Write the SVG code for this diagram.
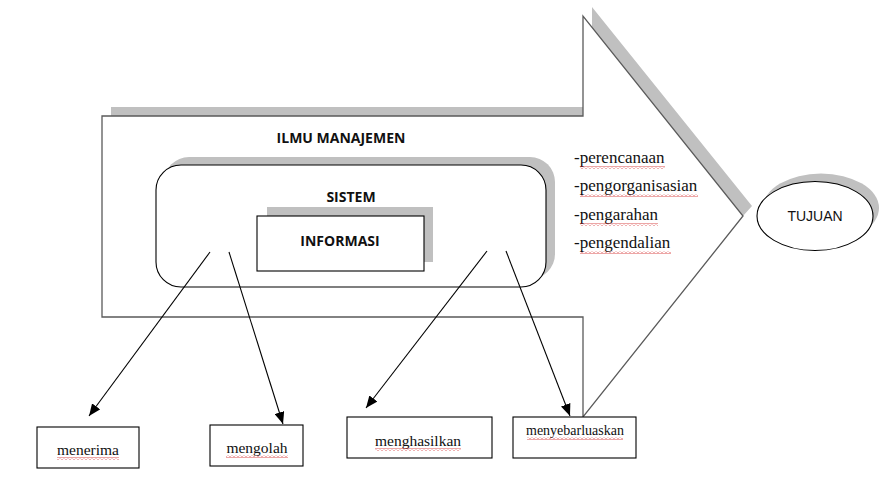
<svg xmlns="http://www.w3.org/2000/svg" width="884" height="498" viewBox="0 0 884 498">
<style>
.shadow{fill:#c0c0c0;stroke:none}
.shape{fill:#fff;stroke:#000;stroke-width:1.1}
.arrowshape{fill:#fff;stroke:#5a5a5a;stroke-width:1.3}
.bold{font-family:"Open Sans","Liberation Sans",sans-serif;font-weight:bold;font-size:14px;fill:#111;text-anchor:middle}
.serif{font-family:"Liberation Serif","Times New Roman",serif;fill:#111}
.sans{font-family:"Liberation Sans",Arial,sans-serif;font-size:14px;fill:#111;text-anchor:middle}
.conn{stroke:#000;stroke-width:1.1;fill:none;marker-end:url(#ah)}
.wavy{fill:url(#zig)}
</style>
<defs>
<marker id="ah" viewBox="0 0 12 10" refX="12" refY="5" markerWidth="12" markerHeight="10" markerUnits="userSpaceOnUse" orient="auto">
<path d="M0,0 L12,5 L0,10 z" fill="#000"/>
</marker>
<pattern id="zig" width="4" height="3" patternUnits="userSpaceOnUse">
<path d="M0,2.5 L2,0.5 L4,2.5" fill="none" stroke="#d02020" stroke-width="0.8"/>
</pattern>
</defs>
<rect width="884" height="498" fill="#fff"/>

<g id="ilmu-manajemen">
<polygon class="shadow" points="111,107 592,107 592,7 752,206 743,216 583,316 111,316"/>
<polygon class="arrowshape" points="102,116 583,116 583,16 743,216 583,417 583,317 102,317"/>
<text class="bold" x="341" y="143">ILMU MANAJEMEN</text>
</g>

<g id="sistem">
<rect class="shadow" x="164" y="157" width="391" height="122" rx="25"/>
<rect class="shape" x="156" y="165" width="390" height="122" rx="25"/>
<text class="bold" x="351" y="202">SISTEM</text>
</g>

<g id="informasi">
<rect class="shadow" x="267" y="207" width="166" height="55"/>
<rect class="shape" x="257" y="216" width="167" height="55"/>
<text class="bold" x="340" y="246">INFORMASI</text>
</g>

<g id="fungsi">
<text class="serif" font-size="17" x="574" y="163">-perencanaan</text>
<text class="serif" font-size="17" x="574" y="191">-pengorganisasian</text>
<text class="serif" font-size="17" x="574" y="220">-pengarahan</text>
<text class="serif" font-size="17" x="574" y="248">-pengendalian</text>
<rect class="wavy" x="580" y="166" width="85" height="3"/>
<rect class="wavy" x="580" y="194" width="118" height="3"/>
<rect class="wavy" x="580" y="223" width="78" height="3"/>
<rect class="wavy" x="580" y="251" width="91" height="3"/>
</g>

<g id="tujuan">
<ellipse class="shadow" cx="821" cy="208" rx="58" ry="34.5"/>
<ellipse class="shape" cx="815" cy="216" rx="58" ry="34.5"/>
<text class="sans" x="815" y="221">TUJUAN</text>
</g>

<g id="menerima">
<rect class="shape" x="37" y="427" width="102" height="41"/>
<text class="serif" font-size="15.5" text-anchor="middle" x="88" y="455">menerima</text>
<rect class="wavy" x="57" y="457" width="62" height="3"/>
</g>

<g id="mengolah">
<rect class="shape" x="210" y="425" width="93" height="41"/>
<text class="serif" font-size="15.5" text-anchor="middle" x="257" y="453">mengolah</text>
<rect class="wavy" x="226" y="455" width="62" height="3"/>
</g>

<g id="menghasilkan">
<rect class="shape" x="347" y="417" width="145" height="41"/>
<text class="serif" font-size="15.5" text-anchor="middle" x="418" y="446">menghasilkan</text>
<rect class="wavy" x="375" y="448" width="86" height="3"/>
</g>

<g id="menyebarluaskan">
<rect class="shape" x="513" y="417" width="123" height="41"/>
<text class="serif" font-size="14" text-anchor="middle" x="575" y="435">menyebarluaskan</text>
<rect class="wavy" x="527" y="437" width="96" height="3"/>
</g>

<g id="connectors">
<line class="conn" x1="210" y1="252" x2="89" y2="416"/>
<line class="conn" x1="229" y1="252" x2="283" y2="424"/>
<line class="conn" x1="487" y1="251" x2="366" y2="408"/>
<line class="conn" x1="506" y1="251" x2="570" y2="416"/>
</g>
</svg>
